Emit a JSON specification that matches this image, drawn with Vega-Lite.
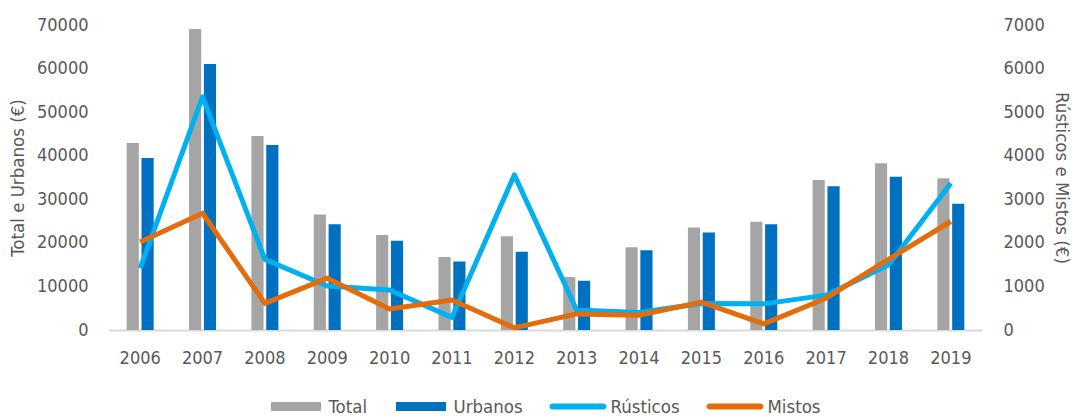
{
  "$schema": "https://vega.github.io/schema/vega-lite/v6.json",
  "width": 873,
  "height": 305,
  "autosize": "none",
  "padding": {"left": 109, "top": 25, "right": 93, "bottom": 86},
  "background": "white",
  "config": {
    "view": {"stroke": null},
    "font": "DejaVu Sans Condensed, Liberation Sans",
    "axis": {
      "labelFont": "DejaVu Sans Condensed, Liberation Sans",
      "titleFont": "DejaVu Sans Condensed, Liberation Sans",
      "labelFontSize": 18,
      "titleFontSize": 18.5,
      "labelColor": "#595959",
      "titleColor": "#595959",
      "titleFontWeight": "normal",
      "grid": false,
      "ticks": false,
      "domain": false
    },
    "legend": {"labelFont": "DejaVu Sans Condensed, Liberation Sans"}
  },
  "data": {
    "values": [
      {"year": "2006", "series": "Total", "kind": "bar", "value": 42900},
      {"year": "2007", "series": "Total", "kind": "bar", "value": 69100},
      {"year": "2008", "series": "Total", "kind": "bar", "value": 44500},
      {"year": "2009", "series": "Total", "kind": "bar", "value": 26500},
      {"year": "2010", "series": "Total", "kind": "bar", "value": 21800},
      {"year": "2011", "series": "Total", "kind": "bar", "value": 16750},
      {"year": "2012", "series": "Total", "kind": "bar", "value": 21500},
      {"year": "2013", "series": "Total", "kind": "bar", "value": 12150},
      {"year": "2014", "series": "Total", "kind": "bar", "value": 19000},
      {"year": "2015", "series": "Total", "kind": "bar", "value": 23550},
      {"year": "2016", "series": "Total", "kind": "bar", "value": 24850},
      {"year": "2017", "series": "Total", "kind": "bar", "value": 34450},
      {"year": "2018", "series": "Total", "kind": "bar", "value": 38250},
      {"year": "2019", "series": "Total", "kind": "bar", "value": 34800},
      {"year": "2006", "series": "Urbanos", "kind": "bar", "value": 39500},
      {"year": "2007", "series": "Urbanos", "kind": "bar", "value": 61050},
      {"year": "2008", "series": "Urbanos", "kind": "bar", "value": 42450},
      {"year": "2009", "series": "Urbanos", "kind": "bar", "value": 24250},
      {"year": "2010", "series": "Urbanos", "kind": "bar", "value": 20500},
      {"year": "2011", "series": "Urbanos", "kind": "bar", "value": 15750},
      {"year": "2012", "series": "Urbanos", "kind": "bar", "value": 17950},
      {"year": "2013", "series": "Urbanos", "kind": "bar", "value": 11300},
      {"year": "2014", "series": "Urbanos", "kind": "bar", "value": 18300},
      {"year": "2015", "series": "Urbanos", "kind": "bar", "value": 22400},
      {"year": "2016", "series": "Urbanos", "kind": "bar", "value": 24250},
      {"year": "2017", "series": "Urbanos", "kind": "bar", "value": 33000},
      {"year": "2018", "series": "Urbanos", "kind": "bar", "value": 35200},
      {"year": "2019", "series": "Urbanos", "kind": "bar", "value": 29000},
      {"year": "2006", "series": "Rústicos", "kind": "line", "value": 1420},
      {"year": "2007", "series": "Rústicos", "kind": "line", "value": 5350},
      {"year": "2008", "series": "Rústicos", "kind": "line", "value": 1620},
      {"year": "2009", "series": "Rústicos", "kind": "line", "value": 1010},
      {"year": "2010", "series": "Rústicos", "kind": "line", "value": 920},
      {"year": "2011", "series": "Rústicos", "kind": "line", "value": 290},
      {"year": "2012", "series": "Rústicos", "kind": "line", "value": 3560},
      {"year": "2013", "series": "Rústicos", "kind": "line", "value": 460},
      {"year": "2014", "series": "Rústicos", "kind": "line", "value": 400},
      {"year": "2015", "series": "Rústicos", "kind": "line", "value": 610},
      {"year": "2016", "series": "Rústicos", "kind": "line", "value": 600},
      {"year": "2017", "series": "Rústicos", "kind": "line", "value": 800},
      {"year": "2018", "series": "Rústicos", "kind": "line", "value": 1490},
      {"year": "2019", "series": "Rústicos", "kind": "line", "value": 3370},
      {"year": "2006", "series": "Mistos", "kind": "line", "value": 2020},
      {"year": "2007", "series": "Mistos", "kind": "line", "value": 2680},
      {"year": "2008", "series": "Mistos", "kind": "line", "value": 610},
      {"year": "2009", "series": "Mistos", "kind": "line", "value": 1190},
      {"year": "2010", "series": "Mistos", "kind": "line", "value": 480},
      {"year": "2011", "series": "Mistos", "kind": "line", "value": 690},
      {"year": "2012", "series": "Mistos", "kind": "line", "value": 50},
      {"year": "2013", "series": "Mistos", "kind": "line", "value": 370},
      {"year": "2014", "series": "Mistos", "kind": "line", "value": 340},
      {"year": "2015", "series": "Mistos", "kind": "line", "value": 640},
      {"year": "2016", "series": "Mistos", "kind": "line", "value": 140},
      {"year": "2017", "series": "Mistos", "kind": "line", "value": 730},
      {"year": "2018", "series": "Mistos", "kind": "line", "value": 1620},
      {"year": "2019", "series": "Mistos", "kind": "line", "value": 2490}
    ]
  },
  "encoding": {
    "x": {
      "field": "year",
      "type": "ordinal",
      "scale": {"paddingInner": 0.567, "paddingOuter": 0.2835},
      "axis": {
        "title": null,
        "labelAngle": 0,
        "labelPadding": 19,
        "domain": true,
        "domainColor": "#D9D9D9",
        "domainWidth": 2
      }
    }
  },
  "layer": [
    {
      "transform": [{"filter": "datum.kind === 'bar'"}],
      "mark": {"type": "bar"},
      "encoding": {
        "xOffset": {"field": "series", "type": "nominal", "sort": ["Total", "Urbanos"], "scale": {"paddingInner": 0.18}},
        "y": {
          "field": "value",
          "type": "quantitative",
          "scale": {"domain": [0, 70000], "nice": false},
          "axis": {
            "values": [0, 10000, 20000, 30000, 40000, 50000, 60000, 70000],
            "format": "d",
            "title": "Total e Urbanos (€)",
            "labelPadding": 21,
            "titlePadding": 9
          }
        },
        "color": {
          "field": "series",
          "type": "nominal",
          "scale": {
            "domain": ["Total", "Urbanos", "Rústicos", "Mistos"],
            "range": ["#A5A5A5", "#0070C0", "#00B0F0", "#E46C0A"]
          },
          "legend": {
            "orient": "none",
            "legendX": 158.5,
            "legendY": 353,
            "direction": "horizontal",
            "title": null,
            "padding": 0,
            "symbolSize": 3249,
            "labelFontSize": 18.5,
            "labelColor": "#595959",
            "labelOffset": 4,
            "columnPadding": 25,
            "encode": {
              "symbols": {
                "update": {
                  "shape": {"signal": "(datum.value === 'Total' || datum.value === 'Urbanos') ? 'M-0.877,-0.158H0.877V0.158H-0.877Z' : 'M-0.895,-0.105H0.895A0.105,0.105 0 0 1 0.895,0.105H-0.895A0.105,0.105 0 0 1 -0.895,-0.105Z'"},
                  "fill": {"signal": "scale('color', datum.value)"},
                  "strokeWidth": {"value": 0},
                  "opacity": {"value": 1},
                  "fillOpacity": {"value": 1}
                }
              }
            }
          }
        }
      }
    },
    {
      "encoding": {
        "y": {
          "field": "value",
          "type": "quantitative",
          "scale": {"domain": [0, 7000], "nice": false},
          "axis": {
            "orient": "right",
            "values": [0, 1000, 2000, 3000, 4000, 5000, 6000, 7000],
            "format": "d",
            "title": "Rústicos e Mistos (€)",
            "labelPadding": 21,
            "titlePadding": 7
          }
        }
      },
      "layer": [
        {
          "transform": [{"filter": "datum.series === 'Rústicos'"}],
          "mark": {"type": "line", "strokeWidth": 5, "strokeJoin": "round"},
          "encoding": {"color": {"field": "series", "type": "nominal"}}
        },
        {
          "transform": [{"filter": "datum.series === 'Mistos'"}],
          "mark": {"type": "line", "strokeWidth": 5, "strokeJoin": "round"},
          "encoding": {"color": {"field": "series", "type": "nominal"}}
        }
      ]
    }
  ],
  "resolve": {"scale": {"y": "independent"}, "axis": {"y": "independent"}}
}
